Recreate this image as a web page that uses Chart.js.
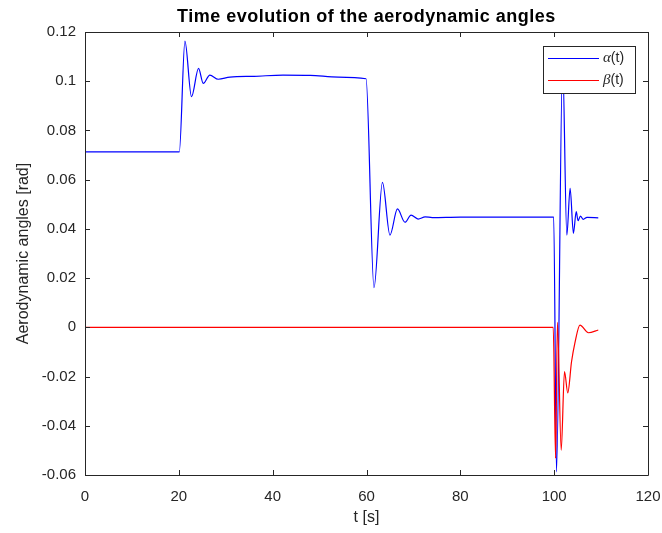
<!DOCTYPE html>
<html>
<head>
<meta charset="utf-8">
<script src="https://cdn.jsdelivr.net/npm/chart.js@4"></script>
<style>
  body { margin: 0; background: #fff; }
  #wrap { width: 662px; height: 533px; }
</style>
</head>
<body>
<div id="wrap"><canvas id="c"></canvas></div>
<script>
// alpha(t) samples [s], [rad]
const alphaT = [0, 20.1, 21.3, 22.7, 24.2, 25.2, 26.6, 28.4, 30.9, 36, 42.2, 48, 54, 59.9,
  61.6, 63.4, 65.0, 66.6, 68.2, 69.5, 71.0, 72.5, 74, 80, 99.9,
  100.5, 101.8, 102.7, 103.4, 104.1, 104.7, 105.1, 105.6, 106.2, 107, 109.4];
const alphaV = [0.0713, 0.0713, 0.1163, 0.0937, 0.1052, 0.0991, 0.1025, 0.1008, 0.1017, 0.1020, 0.1025, 0.1024, 0.1017, 0.1010,
  0.0161, 0.0589, 0.0375, 0.0481, 0.0427, 0.0456, 0.0440, 0.0449, 0.0446, 0.0448, 0.0448,
  -0.0587, 0.108, 0.0375, 0.0565, 0.0382, 0.047, 0.0433, 0.0452, 0.0439, 0.0447, 0.0445];

// beta(t) samples
const betaT = [0, 99.8, 100.3, 100.7, 101.5, 102.2, 102.9, 103.7, 104.4, 105.5, 107.3, 109.4];
const betaV = [0, 0, -0.0532, 0.002, -0.0499, -0.018, -0.0266, -0.014, -0.0065, 0.0009, -0.0022, -0.0011];

const xTicks = [0, 20, 40, 60, 80, 100, 120];
const yTicks = [-0.06, -0.04, -0.02, 0, 0.02, 0.04, 0.06, 0.08, 0.1, 0.12];

const titleText = 'Time evolution of the aerodynamic angles';
const axisColor = '#262626';

function pts(ts, vs) {
    return ts.map((t, i) => ({ x: t, y: vs[i] }));
}

// 坐标框 + 内向刻度 + 标题 + 图例
const boxPlugin = {
    id: 'box',
    afterDatasetsDraw(chart) {
        const { ctx, chartArea: a, scales } = chart;
        ctx.save();
        ctx.strokeStyle = axisColor;
        ctx.lineWidth = 1;
        ctx.beginPath();
        ctx.rect(Math.round(a.left) + 0.5, Math.round(a.top) + 0.5,
            Math.round(a.right - a.left), Math.round(a.bottom - a.top));
        ctx.stroke();
        const tl = 5;
        ctx.beginPath();
        xTicks.forEach(v => {
            const x = Math.round(scales.x.getPixelForValue(v)) + 0.5;
            ctx.moveTo(x, a.bottom); ctx.lineTo(x, a.bottom - tl);
            ctx.moveTo(x, a.top); ctx.lineTo(x, a.top + tl);
        });
        yTicks.forEach(v => {
            const y = Math.round(scales.y.getPixelForValue(v)) + 0.5;
            ctx.moveTo(a.left, y); ctx.lineTo(a.left + tl, y);
            ctx.moveTo(a.right, y); ctx.lineTo(a.right - tl, y);
        });
        ctx.stroke();

        // title, centred over the axes box
        ctx.fillStyle = '#000';
        ctx.font = 'bold 18px "Liberation Sans"';
        ctx.textAlign = 'center';
        ctx.textBaseline = 'middle';
        ctx.letterSpacing = '0.5px';
        ctx.fillText(titleText, (a.left + a.right) / 2, 17);
        ctx.letterSpacing = '0px';
        ctx.textAlign = 'left';

        // legend
        const lx = 543, ly = 46, lw = 92, lh = 47;
        ctx.fillStyle = '#fff';
        ctx.fillRect(lx, ly, lw, lh);
        ctx.strokeStyle = axisColor;
        ctx.strokeRect(lx + 0.5, ly + 0.5, lw, lh);
        const greek = ['\u03B1', '\u03B2'];
        chart.data.datasets.forEach((ds, i) => {
            const y = ly + 12 + i * 22;
            ctx.strokeStyle = ds.borderColor;
            ctx.lineWidth = 1;
            ctx.beginPath();
            ctx.moveTo(548, y + 0.5); ctx.lineTo(599, y + 0.5);
            ctx.stroke();
            ctx.fillStyle = axisColor;
            ctx.textBaseline = 'middle';
            ctx.font = 'italic 15px "Liberation Serif"';
            ctx.fillText(greek[i], 603, y);
            const w = ctx.measureText(greek[i]).width;
            ctx.font = '14px "Liberation Sans"';
            ctx.fillText('(t)', 603 + w, y);
        });
        ctx.restore();
    }
};

new Chart(document.getElementById('c'), {
    type: 'scatter',
    data: {
        datasets: [
            {
                label: '\u03B1(t)',
                data: pts(alphaT, alphaV),
                showLine: true,
                borderColor: '#0000ff',
                borderWidth: 1.2,
                pointRadius: 0,
                cubicInterpolationMode: 'monotone',
                order: 1
            },
            {
                label: '\u03B2(t)',
                data: pts(betaT, betaV),
                showLine: true,
                borderColor: '#ff0000',
                borderWidth: 1.2,
                pointRadius: 0,
                cubicInterpolationMode: 'monotone',
                order: 0
            }
        ]
    },
    options: {
        responsive: true,
        maintainAspectRatio: false,
        animation: false,
        layout: { padding: { left: 0, right: 14, top: 32, bottom: 0 } },
        plugins: {
            legend: { display: false },
            tooltip: { enabled: false },
            title: { display: false }
        },
        scales: {
            x: {
                type: 'linear',
                min: 0, max: 120,
                afterBuildTicks: s => { s.ticks = xTicks.map(v => ({ value: v })); },
                afterFit: s => { s.height = 58; s.paddingRight = 0; s.paddingLeft = 0; },
                grid: { display: false, drawTicks: false },
                border: { display: false },
                ticks: {
                    color: axisColor,
                    font: { family: 'Liberation Sans', size: 15 },
                    padding: 13,
                    maxRotation: 0
                },
                title: {
                    display: true,
                    text: 't [s]',
                    color: axisColor,
                    font: { family: 'Liberation Sans', size: 16 },
                    padding: { top: 0, bottom: 6 }
                }
            },
            y: {
                type: 'linear',
                min: -0.06, max: 0.12,
                afterBuildTicks: s => { s.ticks = yTicks.map(v => ({ value: v })); },
                afterFit: s => { s.width = 85; s.paddingTop = 0; s.paddingBottom = 0; },
                grid: { display: false, drawTicks: false },
                border: { display: false },
                ticks: {
                    color: axisColor,
                    font: { family: 'Liberation Sans', size: 15 },
                    padding: 9,
                    callback: v => String(Number(v.toFixed(2)))
                },
                title: {
                    display: true,
                    text: 'Aerodynamic angles [rad]',
                    color: axisColor,
                    font: { family: 'Liberation Sans', size: 16 },
                    padding: { top: 14, bottom: 0 }
                }
            }
        }
    },
    plugins: [boxPlugin]
});
</script>
</body>
</html>
